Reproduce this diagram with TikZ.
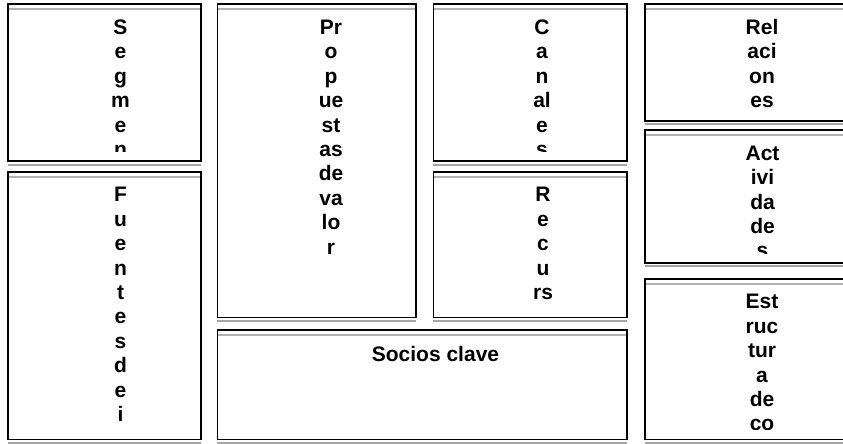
\documentclass[tikz,border=0pt]{standalone}
\usepackage{fontspec}
\setmainfont{Liberation Sans}
\tikzset{
  cvframe/.style={draw=black, line width=1.6pt},
  cvtop/.style={draw=black!30, line width=1.8pt},
  cvshadow/.style={draw=black!35, line width=2pt},
  cvlbl/.style={font=\fontsize{21}{24.4}\selectfont\bfseries, align=center, inner sep=0pt, anchor=north},
}
\newcommand\cvst{\rule{0pt}{16pt}}
% #1 x1, #2 y1, #3 x2, #4 y2
\newcommand\cvpanel[4]{%
  \draw[cvshadow] ({#1},{#4+3.6}) -- ({#3},{#4+3.6});
  \draw[cvtop] ({#1},{#2+5}) -- ({#3},{#2+5});
  \draw[cvframe] ({#1},{#2}) rectangle ({#3},{#4});
}
\begin{document}
\begin{tikzpicture}[x=1pt,y=-1pt]
\useasboundingbox (0,0) rectangle (843,444);
\clip (0,0) rectangle (843,444);
% column 1
\cvpanel{8}{4.3}{201}{161}
\cvpanel{8}{171.7}{201}{439.3}
% column 2
\cvpanel{217.3}{4.3}{416}{317.3}
\cvpanel{217.3}{330}{627}{439.3}
% column 3
\cvpanel{433.3}{4.3}{627}{161}
\cvpanel{433.3}{171.7}{627}{317.3}
% column 4
\cvpanel{645}{4}{870}{120.7}
\cvpanel{645}{130}{870}{262.7}
\cvpanel{645}{278.7}{870}{439.3}
% labels (baseline of first line = top + 30)
\begin{scope}
  \clip (8,4.3) rectangle (201,151.5);
  \node[cvlbl] (seg) at (120.5,18.3) {\cvst S\\e\\g\\m\\e\\n};
\end{scope}
\begin{scope}
  \clip (8,171.7) rectangle (201,430);
  \node[cvlbl] (fue) at (120.5,185.7) {\cvst F\\u\\e\\n\\t\\e\\s\\d\\e\\i};
\end{scope}
\node[cvlbl] (pro) at (331,18.3) {\cvst Pr\\o\\p\\ue\\st\\as\\de\\va\\lo\\r};
\node[cvlbl] (soc) at (435.5,345) {\cvst Socios clave};
\begin{scope}
  \clip (433.3,4.3) rectangle (627,151.5);
  \node[cvlbl] (can) at (542,18.3) {\cvst C\\a\\n\\al\\e\\s};
\end{scope}
\node[cvlbl] (rec) at (543,185.7) {\cvst R\\e\\c\\u\\rs};
\node[cvlbl] (rel) at (762,18) {\cvst Rel\\aci\\on\\es};
\begin{scope}
  \clip (645,130) rectangle (870,253);
  \node[cvlbl] (act) at (762.5,144) {\cvst Act\\ivi\\da\\de\\s};
\end{scope}
\begin{scope}
  \clip (645,278.7) rectangle (870,429.8);
  \node[cvlbl] (est) at (762,292.7) {\cvst Est\\ruc\\tur\\a\\de\\co};
\end{scope}
\end{tikzpicture}
\end{document}
